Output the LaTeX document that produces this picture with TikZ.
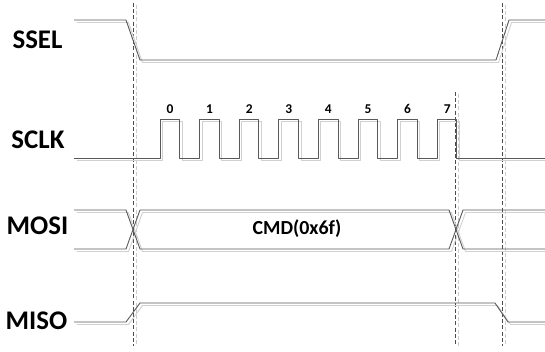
\documentclass[tikz,border=0pt]{standalone}
\usepackage{fontspec}
\setmainfont{Carlito}
\begin{document}
\begin{tikzpicture}[x=1bp,y=-1bp,
  sig/.style={draw=black!65, line width=0.9bp, line join=round},
  shd/.style={draw=black!18, line width=0.9bp, line join=round},
  vline/.style={draw=black!70, line width=0.8bp, dash pattern=on 4bp off 2.2bp},
  vshd/.style={draw=black!20, line width=0.8bp, dash pattern=on 4bp off 2.2bp},
  lab/.style={font=\fontsize{27}{30}\selectfont\bfseries, inner sep=0pt},
  num/.style={font=\fontsize{13.5}{15}\selectfont\bfseries, inner sep=0pt},
  dat/.style={font=\fontsize{20}{22}\selectfont\bfseries, inner sep=0pt}]
\useasboundingbox (0,0) rectangle (545,351);
% dashed markers
\foreach \s/\t/\b in {133/3/346, 455/92/346, 502/3/346}{
  \draw[vshd] (\s+3,\t+2) -- (\s+3,\b);
  \draw[vline] (\s,\t) -- (\s,\b);
}
% labels
\node[lab] (ssel) at (37.5,40) {SSEL};
\node[lab] (sclk) at (38,140) {SCLK};
\node[lab] (mosi) at (37.5,226) {MOSI};
\node[lab] (miso) at (36.5,321) {MISO};
% SSEL waveform
\foreach \st/\dx in {shd/2.5, sig/0}{
  \begin{scope}[xshift=\dx bp, yshift=-\dx bp]
  \draw[\st] (74,20) -- (126,20) -- (140,60) -- (496,60) -- (509,20) -- (545,20);
  \end{scope}
}
% SCLK waveform
\foreach \st/\dx in {shd/2.5, sig/0}{
  \begin{scope}[xshift=\dx bp, yshift=-\dx bp]
  \draw[\st] (74,158)
    \foreach \i in {0,...,7}{ -- ({160+39.6*\i},158) -- ({160+39.6*\i},119) -- ({179.7+39.6*\i},119) -- ({179.7+39.6*\i},158)}
    -- (545,158);
  \end{scope}
}
\foreach \i in {0,...,7}{
  \node[num] (b\i) at ({170+39.6*\i},109) {\i};
}
% MOSI waveform
\foreach \st/\dx in {shd/2.5, sig/0}{
  \begin{scope}[xshift=\dx bp, yshift=-\dx bp]
  \draw[\st] (74,210) -- (126,210) -- (140,249) -- (449,249) -- (463,210) -- (545,210);
  \draw[\st] (74,249) -- (126,249) -- (140,210) -- (449,210) -- (463,249) -- (545,249);
  \end{scope}
}
\node[dat] (cmd) at (297,229) {CMD(0x6f)};
% MISO waveform
\foreach \st/\dx in {shd/2.5, sig/0}{
  \begin{scope}[xshift=\dx bp, yshift=-\dx bp]
  \draw[\st] (74,322) -- (126,322) -- (140,303) -- (495,303) -- (508,322) -- (545,322);
  \end{scope}
}
\end{tikzpicture}
\end{document}
